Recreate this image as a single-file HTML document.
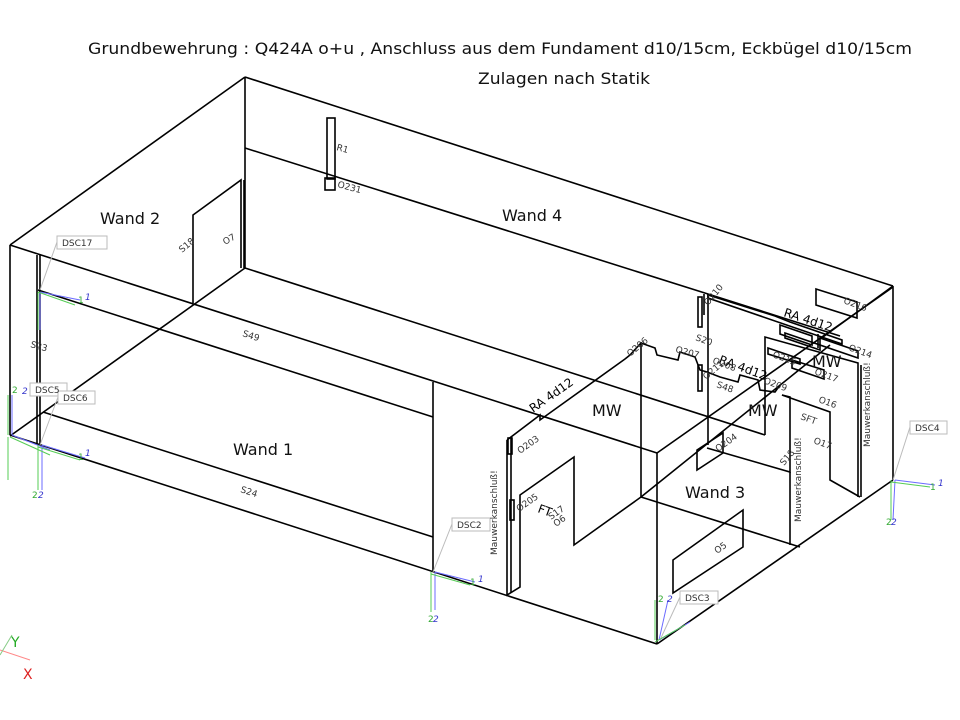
<!DOCTYPE html>
<html><head><meta charset="utf-8"><style>
body{margin:0;background:#fff;width:960px;height:720px;overflow:hidden}
svg{display:block}
text{font-family:"DejaVu Sans","Liberation Sans",sans-serif}
.s{font-size:9px;fill:#333}
.b{font-size:16px;fill:#111}
</style></head><body>
<svg width="960" height="720" viewBox="0 0 960 720" xmlns="http://www.w3.org/2000/svg">
<g stroke="#000" stroke-width="1.6" fill="none" stroke-linejoin="miter">
<line x1="10" y1="245" x2="245" y2="77"/>
<line x1="245" y1="77" x2="893" y2="286"/>
<line x1="893" y1="286" x2="893" y2="480"/>
<line x1="893" y1="480" x2="657" y2="644"/>
<line x1="657" y1="644" x2="10" y2="435"/>
<line x1="10" y1="245" x2="10" y2="435"/>
<line x1="10" y1="245" x2="657" y2="453"/>
<line x1="657" y1="453" x2="657" y2="644"/>
<line x1="657" y1="453" x2="893" y2="287"/>
<line x1="245" y1="77" x2="245" y2="268"/>
<line x1="245" y1="148" x2="708" y2="294"/>
<line x1="708" y1="294" x2="840" y2="336"/>
<line x1="245" y1="268" x2="765" y2="435"/>
<line x1="10" y1="436" x2="245" y2="268"/>
<line x1="37" y1="255" x2="37" y2="445"/>
<line x1="40" y1="255" x2="40" y2="445"/>
<line x1="38" y1="290" x2="433" y2="417"/>
<line x1="43" y1="412" x2="433" y2="537"/>
<line x1="433" y1="382" x2="433" y2="572"/>
<polyline points="193,303 193,215 241,180 241,268"/>
<line x1="244" y1="180" x2="244" y2="268"/>
<rect x="327" y="118" width="8" height="61"/>
<rect x="325" y="178" width="10" height="12"/>
<line x1="641" y1="342" x2="641" y2="497"/>
<line x1="708" y1="294" x2="708" y2="445"/>
<line x1="704" y1="294" x2="704" y2="315"/>
<line x1="641" y1="497" x2="800" y2="547"/>
<line x1="641" y1="497" x2="830" y2="345"/>
<line x1="823" y1="337" x2="893" y2="286"/>
<polyline points="507,440 540,415 540,420 625,359 630,355 641,343 655,348 657,355 678,360 680,352 695,357 700,370 707,372 720,377 738,382 740,375 758,380 760,390 775,392 780,385"/>
<polyline points="507,440 507,595 520,587 520,495 574,457 574,545 641,497"/>
<polyline points="511,437 511,593"/>
<rect x="508" y="438" width="4" height="16"/>
<rect x="510" y="500" width="4" height="20"/>
<polygon points="673,560 743,510 743,547 673,593"/>
<polygon points="697,450 723,433 723,453 697,470"/>
<polyline points="765,435 765,337 858,363 858,497"/>
<line x1="861" y1="365" x2="861" y2="497"/>
<polyline points="707,448 790,472 790,397 782,395"/>
<polyline points="782,395 830,412 830,480 860,497"/>
<polyline points="790,472 790,545"/>
<rect x="698" y="297" width="4" height="30"/>
<rect x="698" y="365" width="4" height="26"/>
<polygon points="708,295 775,316 790,322 842,340 842,344 708,298"/>
<polygon points="816,289 857,302 857,318 816,305"/>
<polygon points="780,325 812,336 812,345 780,334"/>
<polygon points="785,333 820,345 820,350 785,338"/>
<polygon points="820,338 858,351 858,358 820,345"/>
<polygon points="768,348 800,359 800,364 768,354"/>
<polygon points="792,360 824,370 824,379 792,368"/>
<line x1="818" y1="334" x2="818" y2="348"/>
</g>
<g fill="#fff" stroke="#bbb" stroke-width="1">
<rect x="57" y="236" width="50" height="13"/>
<rect x="30" y="383" width="37" height="13"/>
<rect x="58" y="391" width="37" height="13"/>
<rect x="452" y="518" width="38" height="13"/>
<rect x="680" y="591" width="38" height="13"/>
<rect x="910" y="421" width="37" height="13"/>
</g>
<g stroke="#bbb" stroke-width="1">
<line x1="57" y1="242" x2="40" y2="290"/>
<line x1="58" y1="397" x2="40" y2="445"/>
<line x1="452" y1="524" x2="433" y2="572"/>
<line x1="680" y1="597" x2="660" y2="640"/>
<line x1="910" y1="427" x2="893" y2="480"/>
</g>
<g font-size="9" fill="#333">
<text x="62" y="246">DSC17</text><text x="35" y="393">DSC5</text><text x="63" y="401">DSC6</text>
<text x="457" y="528">DSC2</text><text x="685" y="601">DSC3</text><text x="915" y="431">DSC4</text>
</g>
<g stroke-width="1" fill="none">
<g stroke="#6b6bff"><path d="M40,292 L80,300 M40,292 L40,330 M12,435 L12,395 M12,435 L50,450 M42,445 L42,490 M42,445 L85,458 M435,572 L475,582 M435,572 L435,610 M659,640 L668,600 M659,640 L690,622 M895,480 L935,485 M895,480 L893,520"/></g>
<g stroke="#5c5" ><path d="M38,292 L38,330 M38,292 L75,305 M8,435 L8,395 M8,437 L8,480 M10,437 L50,455 M38,445 L38,490 M38,447 L80,460 M431,572 L431,612 M431,574 L470,585 M655,640 L655,600 M655,642 L685,625 M891,480 L891,520 M891,482 L930,487"/></g>
</g>
<g font-size="9" fill="#33c" font-style="italic"><text x="85" y="300">1</text><text x="85" y="456">1</text><text x="478" y="582">1</text><text x="938" y="486">1</text><text x="22" y="394">2</text><text x="667" y="602">2</text><text x="38" y="498">2</text><text x="433" y="622">2</text><text x="891" y="525">2</text></g>
<g font-size="9" fill="#3a3"><text x="78" y="303">1</text><text x="78" y="460">1</text><text x="470" y="585">1</text><text x="930" y="490">1</text><text x="12" y="393">2</text><text x="658" y="602">2</text><text x="32" y="498">2</text><text x="428" y="622">2</text><text x="886" y="525">2</text></g>
<g stroke-width="1"><line x1="0" y1="650" x2="30" y2="660" stroke="#f88"/><line x1="0" y1="655" x2="12" y2="635" stroke="#8c8"/></g>
<text x="11" y="647" font-size="14" fill="#2a2">Y</text>
<text x="23" y="679" font-size="14" fill="#d22">X</text>
<text x="88" y="54" font-size="16" fill="#111" textLength="824" lengthAdjust="spacingAndGlyphs">Grundbewehrung : Q424A o+u , Anschluss aus dem Fundament d10/15cm, Eckbügel d10/15cm</text>
<text x="478" y="84" font-size="16" fill="#111" textLength="172" lengthAdjust="spacingAndGlyphs">Zulagen nach Statik</text>
<text class="b" x="100" y="224">Wand 2</text>
<text class="b" x="502" y="221">Wand 4</text>
<text class="b" x="233" y="455">Wand 1</text>
<text class="b" x="685" y="498">Wand 3</text>
<text class="b" x="592" y="416">MW</text>
<text class="b" x="748" y="416">MW</text>
<text class="b" x="812" y="367">MW</text>
<text x="533" y="413" font-size="12" transform="rotate(-35 533 413)">RA 4d12</text>
<text x="783" y="316" font-size="12" transform="rotate(18 783 316)">RA 4d12</text>
<text x="718" y="363" font-size="12" transform="rotate(20 718 363)">RA 4d12</text>
<g class="s">
<text x="336" y="150" transform="rotate(15 336 150)">R1</text>
<text x="337" y="187" transform="rotate(15 337 187)">O231</text>
<text x="182" y="253" transform="rotate(-40 182 253)">S18</text>
<text x="225" y="245" transform="rotate(-30 225 245)">O7</text>
<text x="242" y="336" transform="rotate(18 242 336)">S49</text>
<text x="30" y="347" transform="rotate(15 30 347)">S23</text>
<text x="240" y="492" transform="rotate(18 240 492)">S24</text>
<text x="520" y="454" transform="rotate(-35 520 454)">O203</text>
<text x="519" y="512" transform="rotate(-35 519 512)">O205</text>
<text x="551" y="520" transform="rotate(-35 551 520)">S17</text>
<text x="556" y="527" transform="rotate(-35 556 527)">O6</text>
<text x="695" y="340" transform="rotate(20 695 340)">S20</text>
<text x="630" y="357" transform="rotate(-40 630 357)">O206</text>
<text x="675" y="352" transform="rotate(15 675 352)">O207</text>
<text x="708" y="306" transform="rotate(-50 708 306)">O210</text>
<text x="843" y="303" transform="rotate(20 843 303)">O216</text>
<text x="848" y="350" transform="rotate(20 848 350)">O214</text>
<text x="772" y="357" transform="rotate(20 772 357)">O215</text>
<text x="814" y="374" transform="rotate(20 814 374)">O217</text>
<text x="712" y="363" transform="rotate(20 712 363)">O208</text>
<text x="706" y="380" transform="rotate(-40 706 380)">O211</text>
<text x="763" y="383" transform="rotate(20 763 383)">O209</text>
<text x="716" y="387" transform="rotate(20 716 387)">S48</text>
<text x="818" y="402" transform="rotate(20 818 402)">O16</text>
<text x="800" y="419" transform="rotate(20 800 419)">SFT</text>
<text x="813" y="443" transform="rotate(20 813 443)">O17</text>
<text x="784" y="466" transform="rotate(-50 784 466)">S18</text>
<text x="718" y="452" transform="rotate(-35 718 452)">O204</text>
<text x="717" y="554" transform="rotate(-35 717 554)">O5</text>
<text x="497" y="555" transform="rotate(-90 497 555)">Mauwerkanschluß!</text>
<text x="801" y="522" transform="rotate(-90 801 522)">Mauwerkanschluß!</text>
<text x="870" y="447" transform="rotate(-90 870 447)">Mauwerkanschluß!</text>
</g>
<text x="537" y="512" font-size="12" transform="rotate(20 537 512)">FT</text>
</svg>
</body></html>
